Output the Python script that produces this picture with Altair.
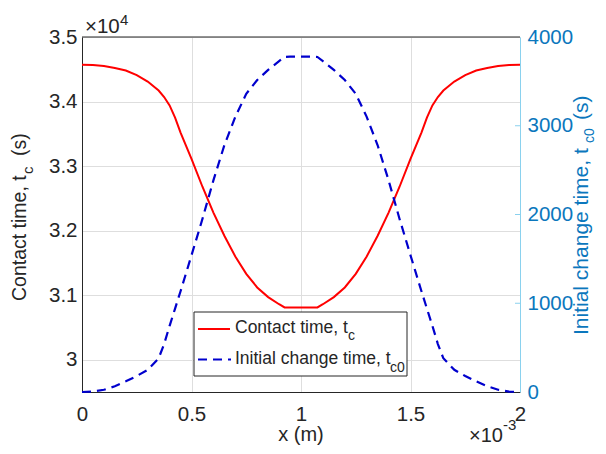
import altair as alt
import pandas as pd

# ---- data (x in units of 1e-3 m) ----
x_mm = [0.0, 0.05, 0.10, 0.15, 0.20, 0.25, 0.30, 0.35, 0.375, 0.40, 0.425, 0.45, 0.50,
        0.55, 0.60, 0.65, 0.70, 0.75, 0.80, 0.85, 0.90, 0.925, 0.95, 1.00,
        1.05, 1.075, 1.10, 1.15, 1.20, 1.25, 1.30, 1.35, 1.40, 1.45, 1.50,
        1.55, 1.575, 1.60, 1.625, 1.65, 1.70, 1.75, 1.80, 1.85, 1.90, 1.95, 2.00]
# contact time in units of 1e4 s
contact_time = [3.457, 3.4565, 3.455, 3.452, 3.448, 3.441, 3.431, 3.417, 3.407, 3.394, 3.375, 3.352, 3.311,
                3.268, 3.228, 3.192, 3.160, 3.133, 3.112, 3.097, 3.086, 3.081, 3.081, 3.081,
                3.081, 3.081, 3.086, 3.097, 3.112, 3.133, 3.160, 3.192, 3.228, 3.268, 3.311,
                3.352, 3.375, 3.394, 3.407, 3.417, 3.431, 3.441, 3.448, 3.452, 3.455, 3.4565, 3.457]
# initial change time in s
initial_change_time = [0, 5, 25, 65, 120, 180, 250, 380, 540, 745, 940, 1135, 1540,
                       1950, 2385, 2780, 3100, 3360, 3515, 3630, 3728, 3775, 3778, 3778,
                       3778, 3775, 3728, 3630, 3515, 3360, 3100, 2780, 2385, 1950, 1540,
                       1135, 940, 745, 540, 380, 250, 180, 120, 65, 25, 5, 0]

x_ticks = [0, 0.5, 1, 1.5, 2]
left_ticks = [3.0, 3.1, 3.2, 3.3, 3.4, 3.5]
right_ticks = [0, 1000, 2000, 3000, 4000]
right_inner_ticks = [1000, 2000, 3000]

left_title = ["Contact time, t", "c", "(s)"]
right_title = ["Initial change time, t", "c0", "(s)"]
x_title = "x (m)"
legend_labels = [["Contact time, t", "c"], ["Initial change time, t", "c0"]]

W, H = 438, 355
FONT = "Liberation Sans"
DARK = "#262626"
GRID = "#dedede"
RIGHT_C = "#0B77BD"
RIGHT_LINE = "#8ad1ee"
RED = "#FF0000"
BLUE = "#0000CD"
TICK_FS = 20.5

df = pd.DataFrame({"x": x_mm, "tc": contact_time, "tc0": initial_change_time})
one = pd.DataFrame({"a": [0]})

xscale = alt.Scale(domain=[0, 2], nice=False, zero=False)
xaxis = alt.Axis(values=x_ticks, format=".1~f", title=None, grid=True, gridColor=GRID,
                 ticks=False, domainColor=DARK, labelColor=DARK, labelFont=FONT,
                 labelFontSize=TICK_FS, labelPadding=12, labelFlush=False, labelOverlap=False)

red = alt.Chart(df).mark_line(color=RED, strokeWidth=2).encode(
    x=alt.X("x:Q", scale=xscale, axis=xaxis),
    y=alt.Y("tc:Q", scale=alt.Scale(domain=[2.95, 3.5], nice=False, zero=False),
            axis=alt.Axis(orient="left", values=left_ticks, format=".1~f", title=None,
                          grid=True, gridColor=GRID, ticks=False, domainColor=DARK,
                          labelColor=DARK, labelFont=FONT, labelFontSize=TICK_FS,
                          labelPadding=5, labelOverlap=False, labelFlush=False)),
)

right_scale = alt.Scale(domain=[0, 4000], nice=False, zero=False)
right_axis = alt.Axis(orient="right", values=right_ticks, format="d", title=None, grid=False,
                      ticks=False, domainColor=RIGHT_LINE, labelColor=RIGHT_C,
                      labelFont=FONT, labelFontSize=TICK_FS, labelPadding=7,
                      labelOverlap=False, labelFlush=False)
blue = alt.Chart(df).mark_line(color=BLUE, strokeWidth=2.2, strokeDash=[9, 6]).encode(
    x=alt.X("x:Q", scale=xscale, axis=xaxis),
    y=alt.Y("tc0:Q", scale=right_scale, axis=right_axis),
)
rticks = alt.Chart(pd.DataFrame({"tc0": right_inner_ticks})).mark_rule(
    color=RIGHT_LINE, strokeWidth=1).encode(
    x=alt.value(W - 5), x2=alt.value(W),
    y=alt.Y("tc0:Q", scale=right_scale, axis=right_axis),
)
right_group = alt.layer(blue, rticks)


def txt(s, x, y, size, color=DARK, angle=0, align="left", baseline="alphabetic"):
    kw = dict(font=FONT, fontSize=size, color=color, align=align, baseline=baseline)
    if angle:
        kw["angle"] = angle
    return alt.Chart(pd.DataFrame({"t": [s]})).mark_text(**kw).encode(
        x=alt.value(x), y=alt.value(y), text="t:N")


top_border = alt.Chart(one).mark_rule(color=DARK, strokeWidth=1).encode(
    x=alt.value(0), x2=alt.value(W), y=alt.value(0))

legend_box = alt.Chart(one).mark_rect(fill="white", stroke=DARK, strokeWidth=1).encode(
    x=alt.value(112), x2=alt.value(325), y=alt.value(275), y2=alt.value(339))
leg_red = alt.Chart(one).mark_rule(color=RED, strokeWidth=2).encode(
    x=alt.value(116), x2=alt.value(148), y=alt.value(292))
leg_blue = alt.Chart(one).mark_rule(color=BLUE, strokeWidth=2.2, strokeDash=[9, 6]).encode(
    x=alt.value(116), x2=alt.value(149), y=alt.value(322.5))

decos = [
    top_border,
    # left title (rotated)
    txt(left_title[0], -56, 264, 19.5, angle=270),
    txt(left_title[1], -49, 137, 15, angle=270),
    txt(left_title[2], -56, 119, 19.5, angle=270),
    # right title (rotated)
    txt(right_title[0], 506, 298, 21, color=RIGHT_C, angle=270),
    txt(right_title[1], 512, 106, 14, color=RIGHT_C, angle=270),
    txt(right_title[2], 506, 83, 21, color=RIGHT_C, angle=270),
    # x title and exponent labels
    txt(x_title, 219, 404, 20, align="center"),
    txt("\u00d710", 387, 405, 20),
    txt("-3", 421, 393, 15),
    txt("\u00d710", 3, -4, 20.5),
    txt("4", 38, -12, 15),
    # legend
    legend_box, leg_red, leg_blue,
    txt(legend_labels[0][0], 153, 296, 17.5),
    txt(legend_labels[0][1], 266, 303, 14),
    txt(legend_labels[1][0], 153, 327, 17.5),
    txt(legend_labels[1][1], 308, 335, 14),
]

chart = alt.layer(red, right_group, *decos).resolve_scale(y="independent").properties(
    width=W, height=H,
    autosize=alt.AutoSizeParams(type="none"),
    padding={"left": 74, "top": 29, "right": 78, "bottom": 54},
    background="white",
).configure_view(stroke=None)

chart.save("out.html", embed_options={"renderer": "svg", "actions": False})
